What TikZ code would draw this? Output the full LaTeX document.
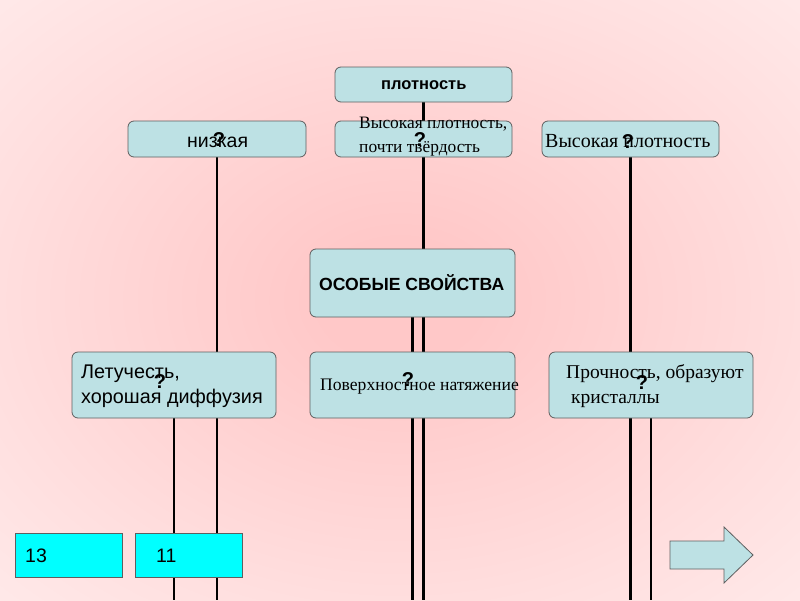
\documentclass[tikz,border=0pt]{standalone}
\usepackage{fontspec}
\setmainfont{Liberation Serif}
\setsansfont{Liberation Sans}
\pgfdeclarelayer{shade}
\pgfdeclarelayer{lines}
\pgfsetlayers{shade,lines,main}
\definecolor{boxc}{HTML}{BDE1E4}
\definecolor{boxline}{HTML}{5F5F5F}
\definecolor{cyanbox}{HTML}{00FFFF}
\definecolor{pinkc}{HTML}{FFC8C8}
\definecolor{pinkm}{HTML}{FFDFDF}
\definecolor{pinke}{HTML}{FFF5F5}
\pgfdeclareradialshading{bgshade}{\pgfpoint{0bp}{0bp}}{color(0bp)=(pinkc); color(5bp)=(pinkc); color(26bp)=(pinkm); color(48bp)=(pinke); color(66bp)=(white)}
\tikzset{
  box/.style={draw=boxline, line width=0.8pt, fill=boxc, rounded corners=6pt, inner sep=0pt},
  numbox/.style={draw=boxline, line width=0.8pt, fill=cyanbox, inner sep=0pt},
  conn/.style={draw=black, line width=2.3pt},
  txt/.style={inner sep=0pt, anchor=base west},
  qm/.style={inner sep=0pt, font=\sffamily\bfseries\fontsize{20}{20}\selectfont},
}
\begin{document}
\begin{tikzpicture}[x=1pt, y=-1pt]
\useasboundingbox (0,0) rectangle (800,600);
\begin{pgfonlayer}{shade}
\fill[shading=bgshade] (0,0) rectangle (800,600);
\end{pgfonlayer}
% boxes
\node[box, minimum width=177, minimum height=35] (plot) at (423.5,84.5) {};
\node[box, minimum width=178, minimum height=36] (low) at (217,139) {};
\node[box, minimum width=177, minimum height=36] (mid) at (423.5,139) {};
\node[box, minimum width=177, minimum height=36] (hi) at (630.5,139) {};
\node[box, minimum width=205, minimum height=68] (spec) at (412.5,283) {};
\node[box, minimum width=204, minimum height=66] (vol) at (174,385) {};
\node[box, minimum width=205, minimum height=66] (surf) at (412.5,385) {};
\node[box, minimum width=204, minimum height=66] (str) at (651,385) {};
\node[numbox, minimum width=107, minimum height=44] (n13) at (68.5,555) {};
\node[numbox, minimum width=107, minimum height=44] (n11) at (188.5,555) {};
\coordinate (bottom) at (400,600);
% connectors
\begin{pgfonlayer}{lines}
\draw[conn] (plot.south) -- (plot.south |- bottom);
\draw[conn] (low.south) -- (low.south |- bottom);
\draw[conn] (hi.south) -- (hi.south |- bottom);
\draw[conn] (spec.south) -- (spec.south |- bottom);
\draw[conn] (vol.south) -- (vol.south |- bottom);
\draw[conn] (str.south) -- (str.south |- bottom);
\end{pgfonlayer}
% texts
\node[txt, font=\sffamily\bfseries\fontsize{16.5}{18}\selectfont] (tplot) at (381,89) {плотность};
\node[txt, font=\sffamily\fontsize{19.5}{22}\selectfont] (tlow) at (187,147) {низкая};
\node[txt, font=\fontsize{17.4}{20}\selectfont] (tmid1) at (359,128) {Высокая плотность,};
\node[txt, font=\fontsize{17.4}{20}\selectfont] (tmid2) at (359,152) {почти твёрдость};
\node[txt, font=\fontsize{20}{22}\selectfont] (thi) at (545,147) {Высокая плотность};
\node[txt, font=\sffamily\bfseries\fontsize{17.6}{20}\selectfont] (tspec) at (319,290) {ОСОБЫЕ СВОЙСТВА};
\node[txt, font=\sffamily\fontsize{19.8}{22}\selectfont] (tvol1) at (81,378) {Летучесть,};
\node[txt, font=\sffamily\fontsize{19.8}{22}\selectfont] (tvol2) at (81,403) {хорошая диффузия};
\node[txt, font=\fontsize{17.6}{20}\selectfont] (tsurf) at (320,390) {Поверхностное натяжение};
\node[txt, font=\fontsize{19.5}{22}\selectfont] (tstr1) at (566,378) {Прочность, образуют};
\node[txt, font=\fontsize{19.5}{22}\selectfont] (tstr2) at (571,403) {кристаллы};
\node[txt, font=\sffamily\fontsize{19.5}{22}\selectfont] (t13) at (25,562) {13};
\node[txt, font=\sffamily\fontsize{19.5}{22}\selectfont] (t11) at (156,562) {11};
% question marks
\node[qm] (q1) at (219,140) {?};
\node[qm] (q2) at (420,140) {?};
\node[qm] (q3) at (628,142) {?};
\node[qm] (q4) at (160,382) {?};
\node[qm] (q5) at (408,380) {?};
\node[qm] (q6) at (642,383) {?};
% arrow
\draw[draw=boxline, line width=0.8pt, fill=boxc] (670,541) -- (724,541) -- (724,527) -- (753,555) -- (724,583) -- (724,569) -- (670,569) -- cycle;
\end{tikzpicture}
\end{document}
